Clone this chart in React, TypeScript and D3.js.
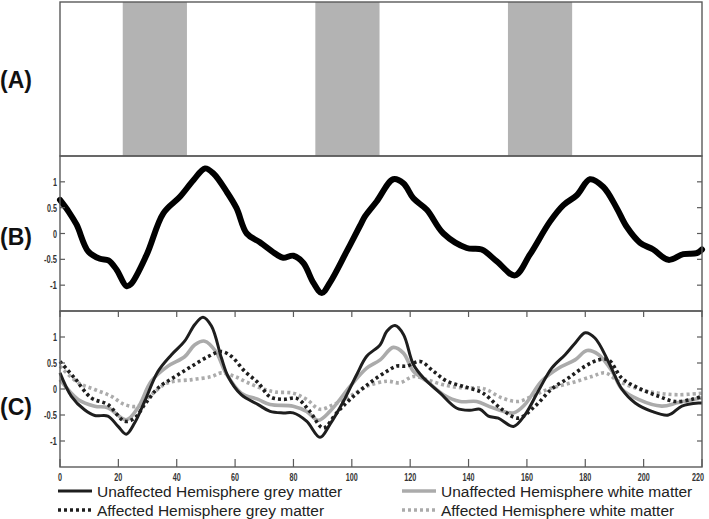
import React from "react";
import * as d3 from "d3";

// ---------- DATA ----------
const blockOnsets = [21.5, 87.5, 153.5];
const blockDuration = 22;

const xTicks = [0, 20, 40, 60, 80, 100, 120, 140, 160, 180, 200, 220];
const yTicks = [-1, -0.5, 0, 0.5, 1];
const yTickLabels = ["-1", "-0.5", "0", "0.5", "1"];

const panelLabels = ["(A)", "(B)", "(C)"];

// Panel B: mean signal
const bTime = [0, 3, 5.7, 9.7, 13.7, 16.6, 19.4, 22.8, 24.3, 29.7, 35.4, 41.1, 45.7, 49.7, 52.6, 57.1, 60.5, 64, 68.5, 74.3, 76.5, 80, 83.4, 86.8, 89.7, 92.5, 98.2, 102.8, 104.5, 108.5, 114.2, 117.7, 121.1, 125.7, 131.4, 139.4, 144.5, 149.7, 155.9, 161, 167.9, 172.5, 177.1, 181.6, 186.2, 190.8, 194.2, 198.8, 203.3, 208.5, 213.6, 218.2, 220];
const bValue = [0.65, 0.42, 0.17, -0.35, -0.49, -0.52, -0.7, -1.02, -0.98, -0.41, 0.39, 0.71, 1.03, 1.26, 1.16, 0.81, 0.49, 0.0, -0.17, -0.41, -0.47, -0.43, -0.57, -0.95, -1.15, -0.95, -0.35, 0.15, 0.33, 0.62, 1.05, 0.97, 0.68, 0.46, 0.0, -0.28, -0.31, -0.54, -0.81, -0.41, 0.23, 0.55, 0.74, 1.05, 0.9, 0.49, 0.13, -0.18, -0.31, -0.51, -0.4, -0.38, -0.31];

// Panel C series
const ugTime = [0, 3.9, 8.4, 11.9, 16.4, 19.9, 22.7, 25.6, 29, 33.6, 38.2, 42.7, 46.2, 49, 51.9, 55.3, 57.6, 62.1, 67.9, 72, 76.5, 79.9, 84.5, 89.1, 92.5, 97.1, 101.7, 105.1, 109.7, 112, 114.8, 117.7, 121.1, 124.6, 130.3, 136, 140.5, 143.9, 146.8, 150.2, 155.4, 159.3, 163.9, 168.5, 173.1, 176.5, 180, 183.3, 187.9, 192.5, 197.1, 202.8, 208.5, 213.1, 218.8, 220];
const ugValue = [0.31, -0.14, -0.4, -0.51, -0.52, -0.72, -0.87, -0.65, -0.24, 0.34, 0.66, 0.92, 1.24, 1.38, 1.21, 0.6, 0.24, -0.11, -0.3, -0.43, -0.46, -0.46, -0.62, -0.93, -0.68, -0.24, 0.28, 0.63, 0.85, 1.11, 1.22, 1.05, 0.47, 0.21, -0.08, -0.37, -0.41, -0.39, -0.52, -0.56, -0.72, -0.5, -0.04, 0.4, 0.66, 0.88, 1.08, 0.98, 0.53, 0.0, -0.27, -0.43, -0.5, -0.33, -0.27, -0.27];

const uwTime = [0, 6.2, 11.9, 16.4, 22.7, 26.7, 31.3, 37, 42.7, 46.2, 49.6, 53.4, 56.8, 62.1, 67.9, 72, 79.9, 84.5, 88.5, 92.5, 99.4, 105.1, 109.7, 114.2, 117.7, 121.1, 125.7, 131.4, 137.1, 142.8, 146.8, 150.2, 155.4, 159.3, 165, 170.8, 176.5, 180.6, 184.6, 189.2, 192.5, 198.2, 206.2, 211.9, 220];
const uwValue = [0.18, -0.2, -0.33, -0.36, -0.59, -0.36, 0.15, 0.44, 0.62, 0.85, 0.92, 0.72, 0.31, -0.08, -0.2, -0.3, -0.33, -0.43, -0.6, -0.43, 0.05, 0.4, 0.56, 0.8, 0.69, 0.34, 0.15, -0.11, -0.24, -0.24, -0.33, -0.4, -0.46, -0.3, 0.15, 0.4, 0.56, 0.74, 0.66, 0.34, 0.0, -0.2, -0.33, -0.26, -0.17];

const agTime = [0, 5, 10.7, 16.4, 22.2, 25.6, 29, 33.6, 39.5, 45.2, 51, 55.3, 58.7, 63.3, 67.9, 72, 76.5, 81.1, 85.6, 90.2, 94.8, 99.4, 106.2, 112, 115.4, 118.8, 123.4, 128, 132.6, 138.3, 144, 146, 151.4, 157.1, 162.8, 168.5, 174.2, 180, 184.6, 188, 192.5, 198.2, 205.1, 210.8, 216.5, 220];
const agValue = [0.53, 0.21, -0.17, -0.3, -0.62, -0.56, -0.3, 0.02, 0.24, 0.44, 0.63, 0.72, 0.63, 0.34, 0.12, -0.15, -0.2, -0.18, -0.43, -0.75, -0.46, -0.2, 0.12, 0.34, 0.44, 0.44, 0.53, 0.34, 0.15, 0.05, -0.05, -0.12, -0.39, -0.56, -0.33, 0.0, 0.21, 0.44, 0.56, 0.56, 0.21, 0.02, -0.14, -0.24, -0.2, -0.14];

const awTime = [0, 6.2, 11.9, 17.6, 22.2, 26.7, 31.3, 37, 45.2, 52, 55.3, 59.9, 64.4, 70.2, 74, 79.9, 84.5, 89.1, 93.7, 99.4, 105.1, 112, 116.5, 121.1, 125.7, 131.4, 138.3, 144, 146.5, 151.4, 157.1, 162.8, 168.5, 175.4, 182.2, 186.8, 191.4, 198.2, 205.1, 211.9, 220];
const awValue = [0.44, 0.12, -0.01, -0.14, -0.3, -0.33, -0.11, 0.12, 0.18, 0.24, 0.31, 0.24, 0.12, -0.01, -0.06, -0.08, -0.2, -0.39, -0.3, -0.14, 0.05, 0.15, 0.12, 0.24, 0.18, 0.08, 0.02, 0.02, -0.02, -0.17, -0.24, -0.11, 0.02, 0.12, 0.24, 0.31, 0.15, 0.0, -0.08, -0.11, -0.08];

const legendLabels = [
  "Unaffected Hemisphere grey matter",
  "Affected Hemisphere grey matter",
  "Unaffected Hemisphere white matter",
  "Affected Hemisphere white matter",
];

// ---------- LAYOUT ----------
const W = 709;
const H = 519;
const left = 60;
const right = 702;
const panels = [
  { top: 2, bottom: 156 },
  { top: 156, bottom: 311 },
  { top: 311, bottom: 467 },
];

const DARK = "#1e1e1e";
const GREY = "#ababab";
const FRAME = "#5a5a5a";

const styles = [
  { color: DARK, width: 3, dash: undefined as string | undefined },
  { color: DARK, width: 3.6, dash: "3,3" },
  { color: GREY, width: 3.6, dash: undefined as string | undefined },
  { color: GREY, width: 3.6, dash: "3,3" },
];

function zip(t: number[], v: number[]): [number, number][] {
  return t.map((d, i) => [d, v[i]]);
}

function condensedWidth(s: string): number {
  let w = 0;
  for (const c of s) w += c === "." ? 2 : c === "-" ? 3 : 4;
  return w;
}

export default function App() {
  const x = d3.scaleLinear().domain([0, 220]).range([left, right]);
  const yB = d3.scaleLinear().domain([-1.5, 1.5]).range([panels[1].bottom, panels[1].top]);
  const yC = d3.scaleLinear().domain([-1.5, 1.5]).range([panels[2].bottom, panels[2].top]);

  const lineB = d3
    .line<[number, number]>()
    .x((d) => x(d[0]))
    .y((d) => yB(d[1]))
    .curve(d3.curveCatmullRom.alpha(0.5));
  const lineC = d3
    .line<[number, number]>()
    .x((d) => x(d[0]))
    .y((d) => yC(d[1]))
    .curve(d3.curveCatmullRom.alpha(0.5));

  const cSeries = [
    zip(ugTime, ugValue),
    zip(agTime, agValue),
    zip(uwTime, uwValue),
    zip(awTime, awValue),
  ];
  const drawOrder = [3, 2, 1, 0];

  const tickFont = "'Liberation Sans', Arial, sans-serif";

  const yAxis = (y: d3.ScaleLinear<number, number>, key: string) => (
    <g key={key}>
      {yTicks.map((t, i) => (
        <g key={i}>
          <line x1={left} x2={left + 5} y1={y(t)} y2={y(t)} stroke={FRAME} strokeWidth={1.2} />
          <line x1={right - 5} x2={right} y1={y(t)} y2={y(t)} stroke={FRAME} strokeWidth={1.2} />
          <text
            x={left - 3}
            y={y(t) + 4}
            textAnchor="end"
            textLength={condensedWidth(yTickLabels[i])}
            lengthAdjust="spacingAndGlyphs"
            fontFamily={tickFont}
            fontSize={11.5}
            fontWeight="bold"
            fill="#333"
          >
            {yTickLabels[i]}
          </text>
        </g>
      ))}
    </g>
  );

  const labelY = [80, 237, 407];

  return (
    <svg
      width={W}
      height={H}
      style={{ position: "absolute", left: 0, top: 0, background: "#fff" }}
    >
      <rect x={0} y={0} width={W} height={H} fill="#fff" />
      {blockOnsets.map((b, i) => (
        <rect
          key={i}
          x={x(b)}
          y={panels[0].top}
          width={x(b + blockDuration) - x(b)}
          height={panels[0].bottom - panels[0].top}
          fill="#b3b3b3"
        />
      ))}

      <path
        d={lineB(zip(bTime, bValue)) || ""}
        fill="none"
        stroke="#000"
        strokeWidth={6}
        strokeLinejoin="round"
        strokeLinecap="round"
      />

      {drawOrder.map((k) => (
        <path
          key={k}
          d={lineC(cSeries[k]) || ""}
          fill="none"
          stroke={styles[k].color}
          strokeWidth={styles[k].width}
          strokeDasharray={styles[k].dash}
          strokeLinejoin="round"
        />
      ))}

      {panels.map((p, i) => (
        <rect
          key={i}
          x={left}
          y={p.top}
          width={right - left}
          height={p.bottom - p.top}
          fill="none"
          stroke={FRAME}
          strokeWidth={1.4}
        />
      ))}

      {yAxis(yB, "b")}
      {yAxis(yC, "c")}

      {xTicks.map((t, i) => {
        const lw = condensedWidth(String(t));
        const last = i === xTicks.length - 1;
        return (
          <g key={i}>
            <line x1={x(t)} x2={x(t)} y1={panels[2].top} y2={panels[2].top + 6} stroke={FRAME} strokeWidth={1.2} />
            <line x1={x(t)} x2={x(t)} y1={panels[2].bottom - 8} y2={panels[2].bottom} stroke={FRAME} strokeWidth={1.2} />
            <text
              x={last ? W - 5 : x(t)}
              y={481}
              textAnchor={last ? "end" : "middle"}
              textLength={lw}
              lengthAdjust="spacingAndGlyphs"
              fontFamily={tickFont}
              fontSize={11.5}
              fontWeight="bold"
              fill="#333"
            >
              {t}
            </text>
          </g>
        );
      })}

      {panelLabels.map((l, i) => (
        <text
          key={l}
          x={0}
          y={labelY[i] + 8}
          fontFamily="'Liberation Sans', Arial, sans-serif"
          fontWeight="bold"
          fontSize={23}
          fill="#111"
        >
          {l}
        </text>
      ))}

      {legendLabels.map((l, i) => {
        const col = Math.floor(i / 2);
        const row = i % 2;
        const lx = col === 0 ? 58 : 402;
        const ly = row === 0 ? 491 : 510;
        const s = styles[i];
        return (
          <g key={l}>
            <line
              x1={lx}
              x2={lx + 34}
              y1={ly}
              y2={ly}
              stroke={s.color}
              strokeWidth={s.width}
              strokeDasharray={s.dash}
            />
            <text
              x={lx + 39}
              y={ly + 5.5}
              fontFamily="'Liberation Sans', Arial, sans-serif"
              fontSize={15.5}
              fill="#222"
            >
              {l}
            </text>
          </g>
        );
      })}
    </svg>
  );
}
